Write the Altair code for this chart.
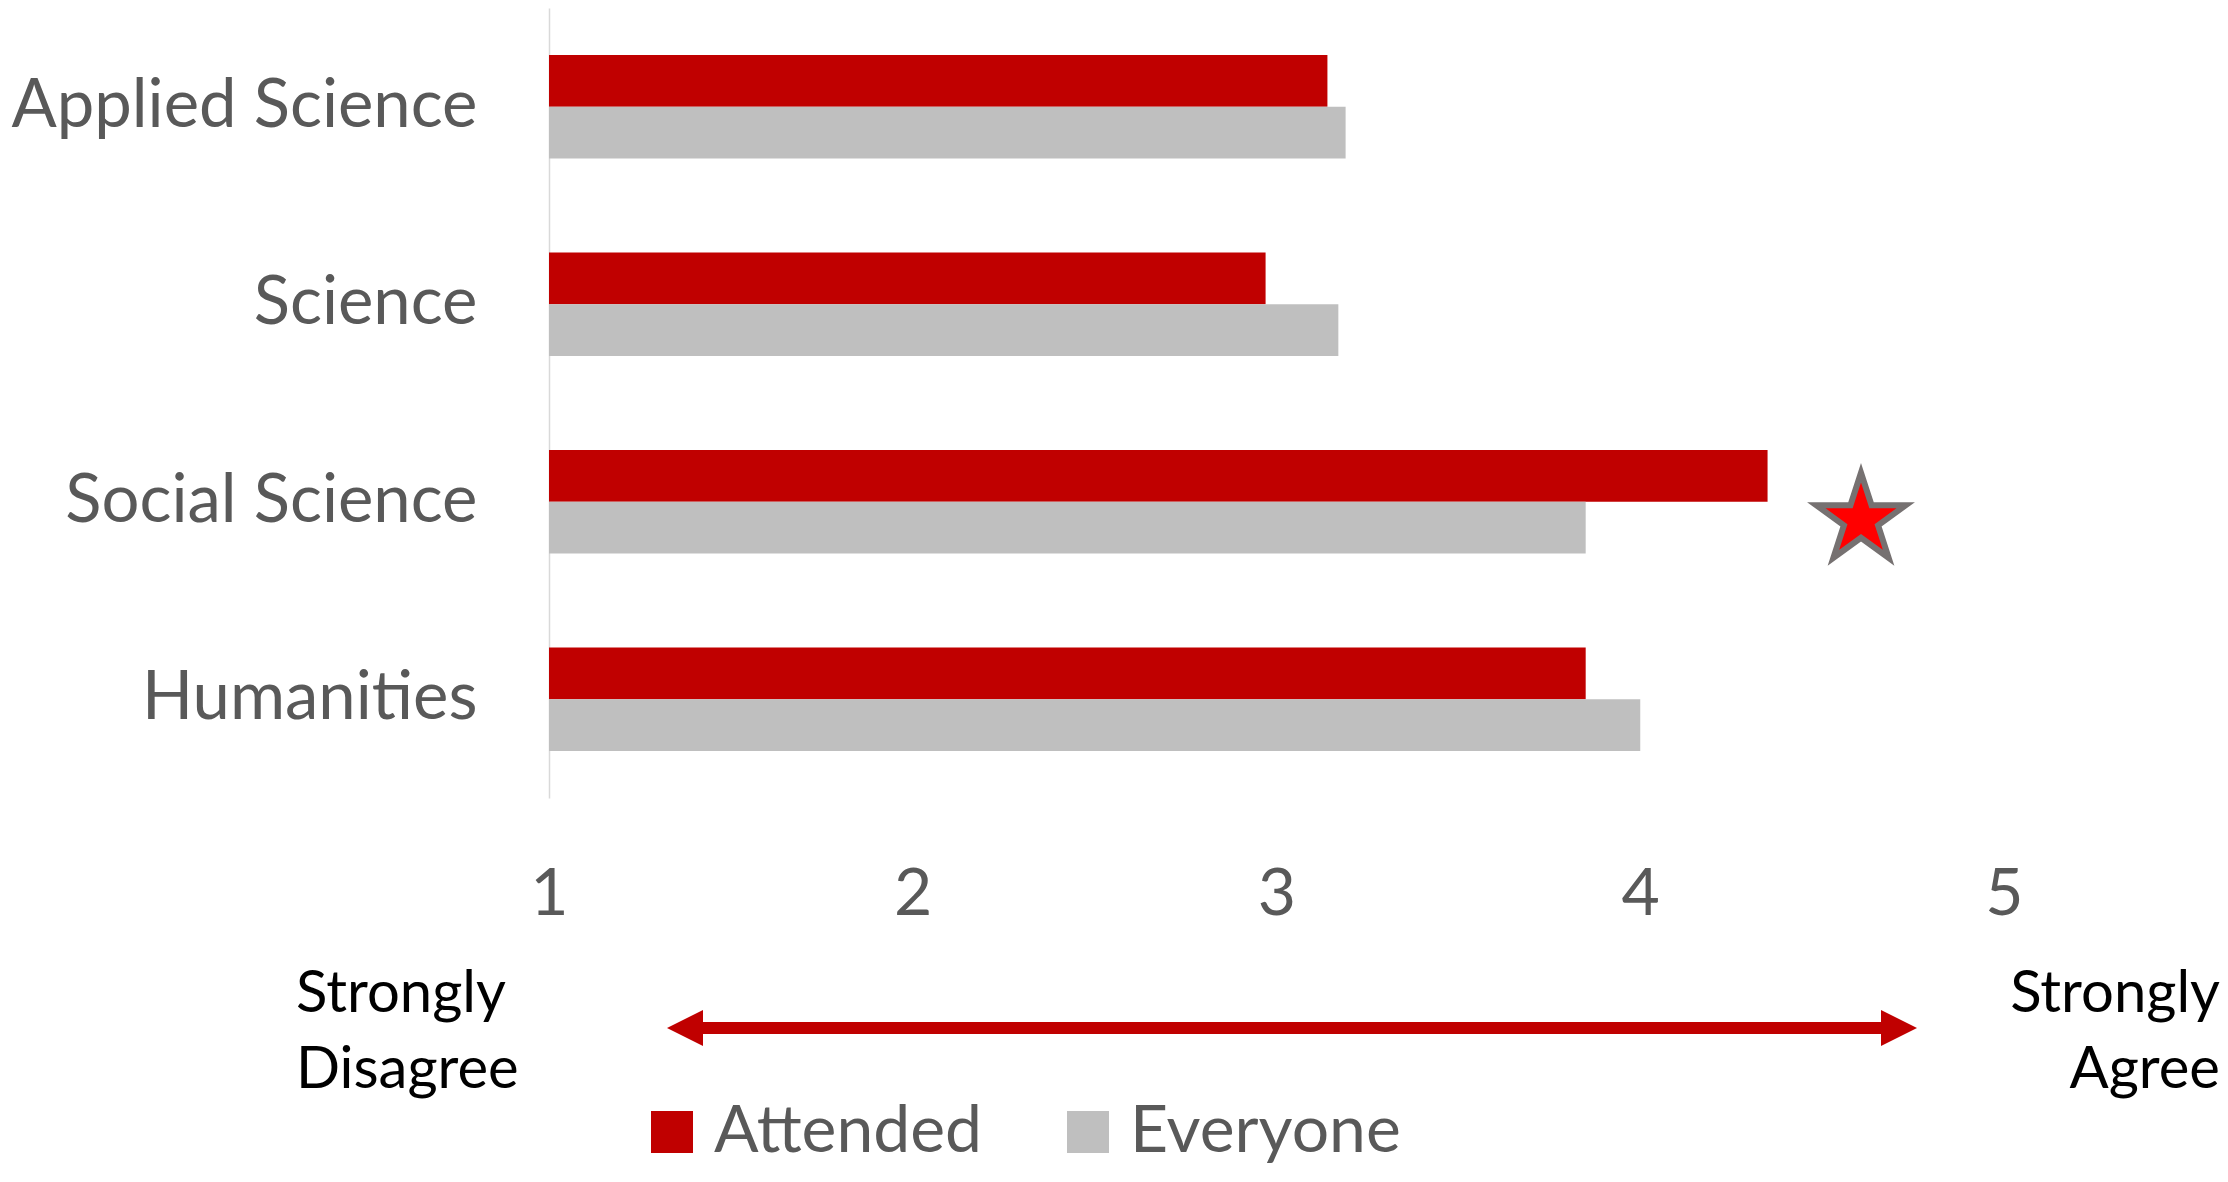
import altair as alt
import pandas as pd

# ---- data ----
categories = ["Applied Science", "Science", "Social Science", "Humanities"]
series = ["Attended", "Everyone"]
attended = [3.14, 2.97, 4.35, 3.85]
everyone = [3.19, 3.17, 3.85, 4.00]
colors = ["#C00000", "#BFBFBF"]
tick_values = [1, 2, 3, 4, 5]
star_category = ["Social Science"]
left_label = ["Strongly\nDisagree"]
right_label = ["Strongly\nAgree"]

rows = []
for c, a, e in zip(categories, attended, everyone):
    rows.append({"category": c, "series": "Attended", "value": a})
    rows.append({"category": c, "series": "Everyone", "value": e})
df = pd.DataFrame(rows)

W, H = 1455, 790
FONT = "Lato"
GREY_TXT = "#595959"

yscale = alt.Scale(domain=categories, paddingInner=0.475, paddingOuter=0.2375)
xscale = alt.Scale(domain=[1, 5], zero=False, nice=False)

y_axis = alt.Axis(title=None, ticks=False, domain=True, domainColor="#D9D9D9",
                  domainWidth=1.5, labelFontSize=67, labelColor=GREY_TXT,
                  labelFont=FONT, labelPadding=72, labelLimit=800)

bars = alt.Chart(df).mark_bar().encode(
    x=alt.X("value:Q", scale=xscale,
            axis=alt.Axis(values=tick_values, format="d", grid=False, domain=False,
                          ticks=False, labelFontSize=66, labelColor=GREY_TXT,
                          labelFont=FONT, labelPadding=64, labelFlush=False,
                          title=None)),
    x2=alt.datum(1),
    y=alt.Y("category:N", scale=yscale, sort=categories, axis=y_axis),
    yOffset=alt.YOffset("series:N", sort=series,
                        scale=alt.Scale(paddingInner=0, paddingOuter=0)),
    color=alt.Color("series:N", scale=alt.Scale(domain=series, range=colors),
                    legend=alt.Legend(orient="none", legendX=90, legendY=1091,
                                      direction="horizontal", title=None,
                                      symbolType="square", symbolSize=1764,
                                      symbolStrokeWidth=0, labelFontSize=66,
                                      labelFont=FONT, labelColor=GREY_TXT,
                                      labelOffset=9, columnPadding=72,
                                      labelLimit=600)),
)

STAR = ("M0,-1L0.2245,-0.309L0.951,-0.309L0.363,0.118L0.588,0.809L0,0.382"
        "L-0.588,0.809L-0.363,0.118L-0.951,-0.309L-0.2245,-0.309Z")

star = alt.Chart(pd.DataFrame({"category": star_category})).mark_point(
    shape=STAR, size=8836, filled=True, fill="#FF0000", stroke="#767171",
    strokeWidth=6, opacity=1, fillOpacity=1, strokeOpacity=1, yOffset=18,
    strokeJoin="miter",
).encode(
    x=alt.value(1312),
    y=alt.Y("category:N", scale=yscale, sort=categories, axis=y_axis),
)

one = pd.DataFrame({"k": [0]})
shaft = alt.Chart(one).mark_rule(color="#C00000", strokeWidth=12).encode(
    x=alt.value(137), x2=alt.value(1350), y=alt.value(1020)
)
head_l = alt.Chart(one).mark_point(
    shape="M-1,0L1,-1L1,1Z", size=1296, filled=True, fill="#C00000",
    strokeWidth=0, opacity=1,
).encode(x=alt.value(136), y=alt.value(1020))
head_r = alt.Chart(one).mark_point(
    shape="M1,0L-1,-1L-1,1Z", size=1296, filled=True, fill="#C00000",
    strokeWidth=0, opacity=1,
).encode(x=alt.value(1350), y=alt.value(1020))

txt_l = alt.Chart(pd.DataFrame({"t": left_label})).mark_text(
    align="left", baseline="alphabetic", fontSize=58, font=FONT, color="black",
    lineBreak="\n", lineHeight=76,
).encode(x=alt.value(-253), y=alt.value(1004), text="t:N")
txt_r = alt.Chart(pd.DataFrame({"t": right_label})).mark_text(
    align="right", baseline="alphabetic", fontSize=58, font=FONT, color="black",
    lineBreak="\n", lineHeight=76,
).encode(x=alt.value(1671), y=alt.value(1004), text="t:N")

chart = alt.layer(bars, star, shaft, head_l, head_r, txt_l, txt_r).properties(
    width=W, height=H,
    autosize=alt.AutoSizeParams(type="none"),
    padding={"left": 541, "top": 0, "right": 216, "bottom": 368},
    background="white",
).configure_view(stroke=None)

chart.save("out.html", embed_options={"renderer": "svg", "actions": False})
